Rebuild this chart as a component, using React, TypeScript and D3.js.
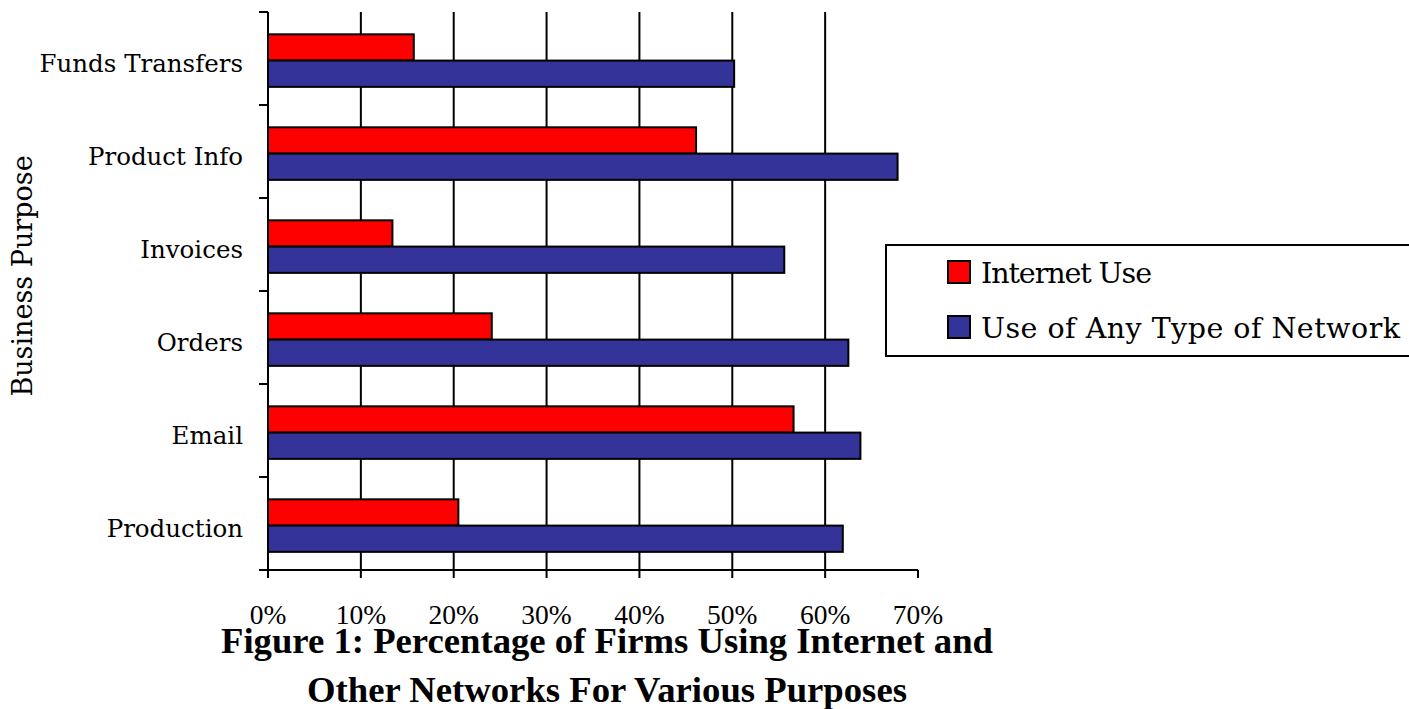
import React from "react";
import * as d3 from "d3";

// Business purposes, listed top to bottom
const categories = [
  "Funds Transfers",
  "Product Info",
  "Invoices",
  "Orders",
  "Email",
  "Production",
];

// Percent of firms
const internetUse = [15.7, 46.1, 13.4, 24.1, 56.6, 20.5];
const anyNetworkUse = [50.2, 67.8, 55.6, 62.5, 63.8, 61.9];

const seriesNames = ["Internet Use", "Use of Any Type of Network"];
const seriesColors = ["#FF0000", "#333399"];

const xTicks = [0, 10, 20, 30, 40, 50, 60, 70];

const titleLines = [
  "Figure 1: Percentage of Firms Using Internet and",
  "Other Networks For Various Purposes",
];

const W = 1409;
const H = 709;
const SERIF = "'DejaVu Serif', serif";
const TITLE_FONT = "'Liberation Serif', 'Times New Roman', serif";

// widths of the legend entries
const legendTextWidths = [171, 419];

export default function App() {
  const x = d3.scaleLinear().domain([0, 70]).range([268, 918]);
  const y = d3.scaleBand<string>().domain(categories).range([12, 570]).padding(0);
  const step = y.step();
  const inner = d3
    .scaleBand<number>()
    .domain([0, 1])
    .range([step * 0.24, step * 0.805])
    .padding(0);

  const series = [internetUse, anyNetworkUse];
  const [yTop, yBottom] = y.range();

  return (
    <svg
      width={W}
      height={H}
      style={{ position: "absolute", left: 0, top: 0, background: "#fff" }}
    >
      {/* vertical gridlines */}
      {xTicks
        .filter((t) => t > 0 && t < 70)
        .map((t) => (
          <line
            key={"g" + t}
            x1={x(t)}
            x2={x(t)}
            y1={yTop}
            y2={yBottom}
            stroke="#000"
            strokeWidth={2}
          />
        ))}

      {/* bars */}
      {categories.map((c, i) =>
        series.map((vals, s) => (
          <rect
            key={c + s}
            x={x(0)}
            y={(y(c) as number) + (inner(s) as number)}
            width={x(vals[i]) - x(0)}
            height={inner.bandwidth()}
            fill={seriesColors[s]}
            stroke="#000"
            strokeWidth={2}
          />
        ))
      )}

      {/* y axis with category ticks */}
      <line x1={x(0)} x2={x(0)} y1={yTop} y2={yBottom} stroke="#000" strokeWidth={2} />
      {d3.range(categories.length + 1).map((k) => (
        <line
          key={"yt" + k}
          x1={x(0) - 9}
          x2={x(0)}
          y1={yTop + k * step}
          y2={yTop + k * step}
          stroke="#000"
          strokeWidth={2}
        />
      ))}

      {/* x axis */}
      <line x1={x(0) - 9} x2={x(70)} y1={yBottom} y2={yBottom} stroke="#000" strokeWidth={2} />
      {xTicks.map((t) => (
        <line
          key={"xt" + t}
          x1={x(t)}
          x2={x(t)}
          y1={yBottom}
          y2={yBottom + 8}
          stroke="#000"
          strokeWidth={2}
        />
      ))}
      {xTicks.map((t) => (
        <text
          key={"xl" + t}
          x={x(t)}
          y={624}
          textAnchor="middle"
          fontFamily={TITLE_FONT}
          fontSize={27.5}
          fill="#000"
        >
          {t + "%"}
        </text>
      ))}

      {/* category labels */}
      {categories.map((c) => (
        <text
          key={"cl" + c}
          x={243}
          y={(y(c) as number) + step / 2 + 13.5}
          textAnchor="end"
          fontFamily={SERIF}
          fontSize={24.5}
          fill="#000"
        >
          {c}
        </text>
      ))}

      {/* y axis title */}
      <text
        transform={`translate(32, ${(yTop + yBottom) / 2 - 15}) rotate(-90)`}
        textAnchor="middle"
        fontFamily={SERIF}
        fontSize={27}
        fill="#000"
      >
        Business Purpose
      </text>

      {/* legend, running past the right edge */}
      <rect x={886} y={245} width={540} height={111} fill="#fff" stroke="#000" strokeWidth={2} />
      {seriesNames.map((n, s) => (
        <g key={"lg" + s}>
          <rect
            x={948}
            y={261 + s * 55}
            width={22}
            height={22}
            fill={seriesColors[s]}
            stroke="#000"
            strokeWidth={2}
          />
          <text
            x={981}
            y={283 + s * 55}
            fontFamily={SERIF}
            fontSize={28.5}
            textLength={legendTextWidths[s]}
            lengthAdjust="spacing"
            fill="#000"
          >
            {n}
          </text>
        </g>
      ))}

      {/* caption */}
      {titleLines.map((l, k) => (
        <text
          key={"t" + k}
          x={607}
          y={653 + k * 48.5}
          textAnchor="middle"
          fontFamily={TITLE_FONT}
          fontWeight="bold"
          fontSize={36.7}
          fill="#000"
        >
          {l}
        </text>
      ))}
    </svg>
  );
}
